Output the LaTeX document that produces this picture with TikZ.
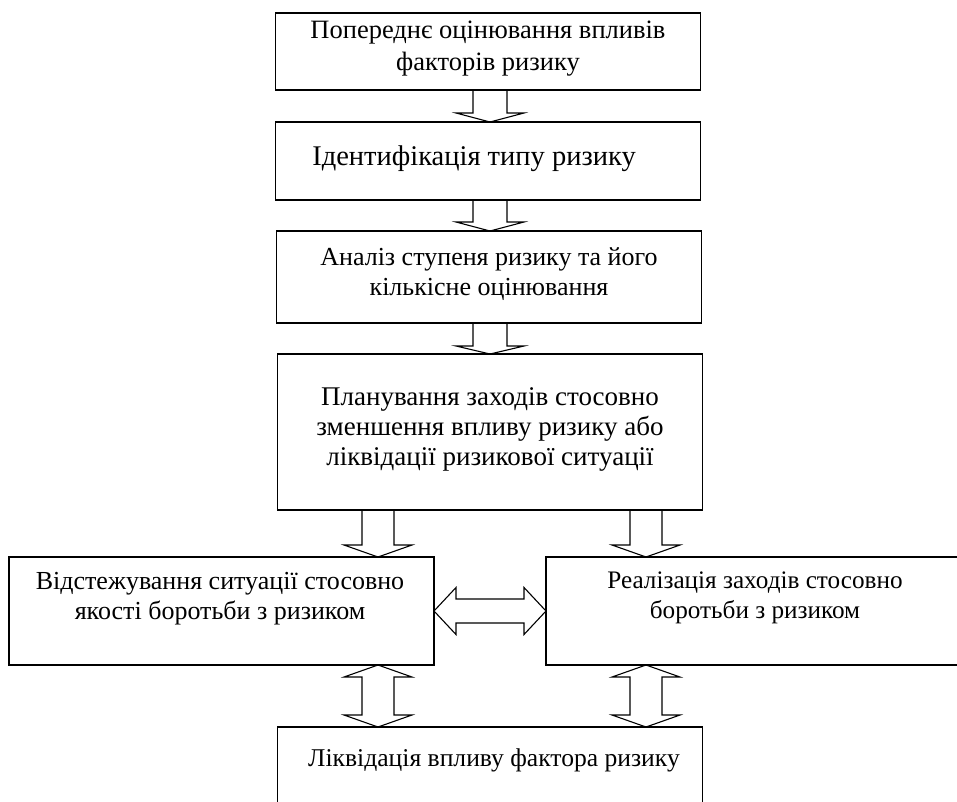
\documentclass[tikz,border=0pt]{standalone}
\usepackage{fontspec}
\setmainfont{Liberation Serif}
\usetikzlibrary{calc}
\tikzset{
  box/.style={draw, line width=1.4pt, rectangle, inner sep=0pt, outer sep=0pt},
  txt/.style={align=center, inner sep=0pt, font=\fontsize{26}{30}\selectfont},
  arr/.style={draw, line width=1.1pt, line join=miter},
}
\newcommand\blkdown[6]{%
  \draw[arr] ($(#1.south -| #3)+(-#4,0)$) -- ($(#2.north -| #3)+(-#4,-#6)$) -- ($(#2.north -| #3)+(-#5,-#6)$) -- (#2.north -| #3) -- ($(#2.north -| #3)+(#5,-#6)$) -- ($(#2.north -| #3)+(#4,-#6)$) -- ($(#1.south -| #3)+(#4,0)$);}
\newcommand\blkupdown[6]{%
  \draw[arr] (#1.south -| #3) -- ($(#1.south -| #3)+(#5,#6)$) -- ($(#1.south -| #3)+(#4,#6)$) -- ($(#2.north -| #3)+(#4,-#6)$) -- ($(#2.north -| #3)+(#5,-#6)$) -- (#2.north -| #3) -- ($(#2.north -| #3)+(-#5,-#6)$) -- ($(#2.north -| #3)+(-#4,-#6)$) -- ($(#1.south -| #3)+(-#4,#6)$) -- ($(#1.south -| #3)+(-#5,#6)$) -- cycle;}
\newcommand\blkleftright[5]{%
  \draw[arr] (#1.east) -- ($(#1.east)+(#5,-#4)$) -- ($(#1.east)+(#5,-#3)$) -- ($(#2.west)+(-#5,-#3)$) -- ($(#2.west)+(-#5,-#4)$) -- (#2.west) -- ($(#2.west)+(-#5,#4)$) -- ($(#2.west)+(-#5,#3)$) -- ($(#1.east)+(#5,#3)$) -- ($(#1.east)+(#5,#4)$) -- cycle;}
\begin{document}
\begin{tikzpicture}[x=1pt,y=-1pt]
\clip (0,0) rectangle (957,801);
\fill[white] (0,0) rectangle (957,801);
% boxes
\node[box, minimum width=425pt, minimum height=77pt] (b1) at (488,51.5) {};
\node[box, minimum width=425pt, minimum height=78pt] (b2) at (488,161) {};
\node[box, minimum width=425pt, minimum height=92pt] (b3) at (489,277) {};
\node[box, minimum width=425pt, minimum height=156pt] (b4) at (490,432) {};
\node[box, minimum width=425pt, minimum height=108pt] (b5) at (221.5,611) {};
\node[box, minimum width=425pt, minimum height=108pt] (b6) at (758.5,611) {};
\node[box, minimum width=425pt, minimum height=110pt] (b7) at (490,782) {};
% texts
\node[txt, font=\fontsize{26.5}{32}\selectfont] (t1) at (488,49) {Попереднє оцінювання впливів\\факторів ризику};
\node[txt, font=\fontsize{28.5}{30}\selectfont] (t2) at (474,159) {Ідентифікація типу ризику};
\node[txt] (t3) at (489,274) {Аналіз ступеня ризику та його\\кількісне оцінювання};
\node[txt, font=\fontsize{27}{30}\selectfont] (t4) at (490,429) {Планування заходів стосовно\\зменшення впливу ризику або\\ліквідації ризикової ситуації};
\node[txt] (t5) at (220,599) {Відстежування ситуації стосовно\\якості боротьби з ризиком};
\node[txt, font=\fontsize{25.2}{30}\selectfont] (t6) at (755,598) {Реалізація заходів стосовно\\боротьби з ризиком};
\node[txt, font=\fontsize{25.6}{30}\selectfont] (t7) at (494,760) {Ліквідація впливу фактора ризику};
% arrow axes
\coordinate (xc) at (490,0);
\coordinate (xl) at (378,0);
\coordinate (xr) at (646,0);
% arrows
\blkdown{b1}{b2}{xc}{17}{34}{9}
\blkdown{b2}{b3}{xc}{17}{34}{9}
\blkdown{b3}{b4}{xc}{17}{34}{8}
\blkdown{b4}{b5}{xl}{16}{34}{12}
\blkdown{b4}{b6}{xr}{16}{34}{12}
\blkupdown{b5}{b7}{xl}{16}{34}{12}
\blkupdown{b6}{b7}{xr}{16}{34}{12}
\blkleftright{b5}{b6}{12}{23.5}{22}
\end{tikzpicture}
\end{document}
